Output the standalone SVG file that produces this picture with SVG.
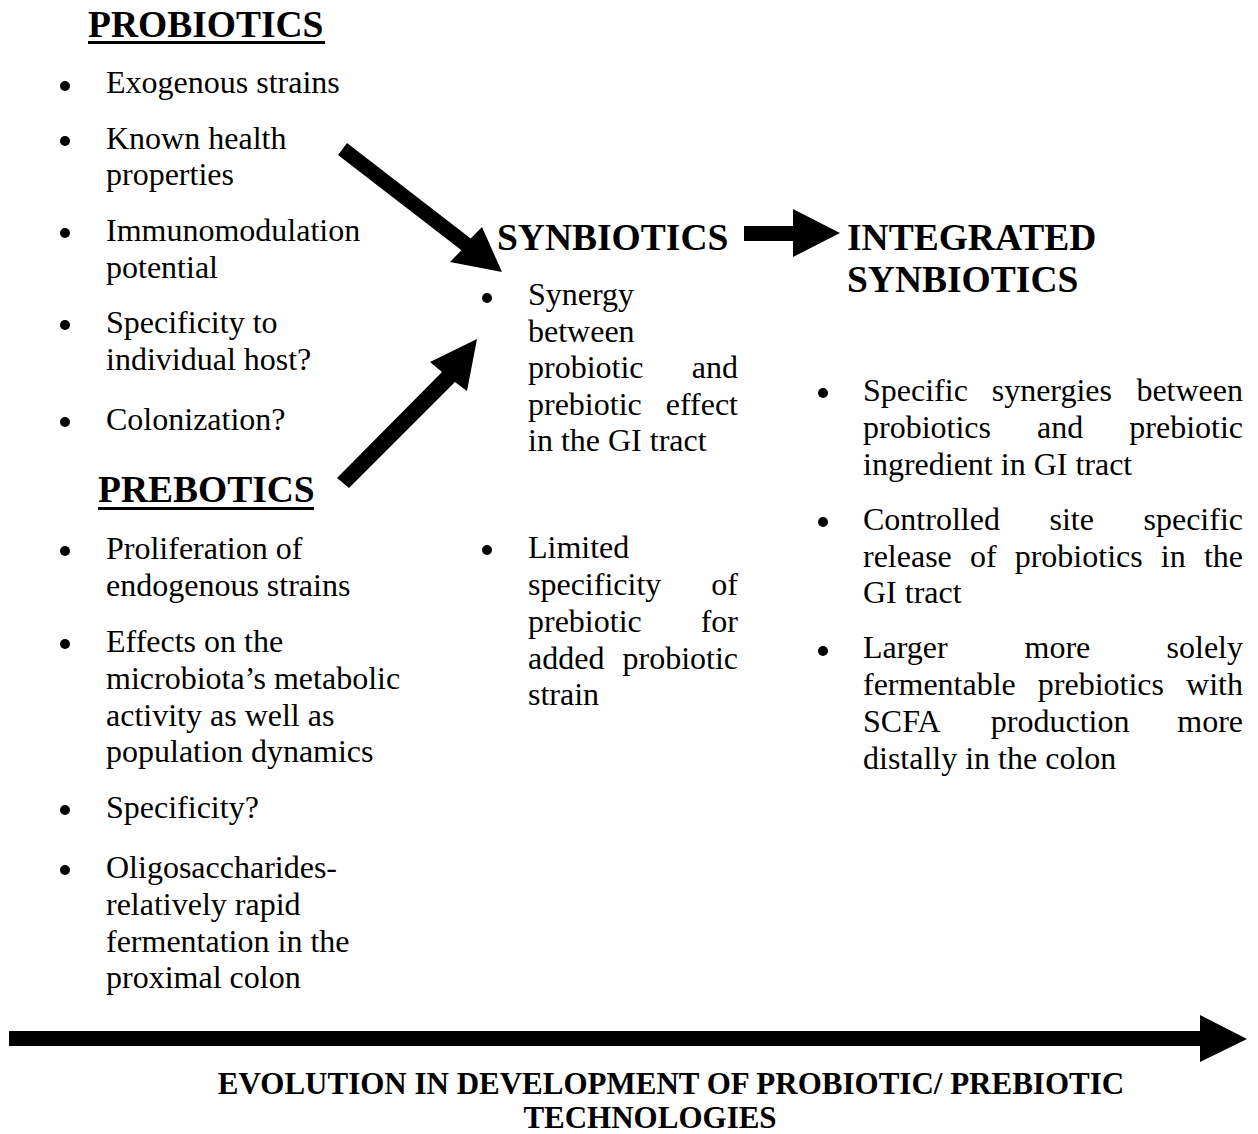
<svg xmlns="http://www.w3.org/2000/svg" width="1258" height="1134" viewBox="0 0 1258 1134">
<style>
text{font-family:"Liberation Serif","Times New Roman",serif;fill:#000}
.b{font-size:32px}
.h{font-size:37.5px;font-weight:bold}
.f{font-size:31px;font-weight:bold}
.e{text-anchor:end}
.m{text-anchor:middle}
circle{fill:#000}
.arr{fill:#000}
</style>
<rect width="1258" height="1134" fill="#fff"/>

<g id="probiotics">
<text class="h" x="88" y="37">PROBIOTICS</text>
<rect x="88" y="41" width="237" height="3"/>
<circle cx="65" cy="86" r="5"/>
<text class="b" x="106" y="93">Exogenous strains</text>
<circle cx="65" cy="141" r="5"/>
<text class="b" x="106" y="149">Known health</text>
<text class="b" x="106" y="185">properties</text>
<circle cx="65" cy="233" r="5"/>
<text class="b" x="106" y="241">Immunomodulation</text>
<text class="b" x="106" y="278">potential</text>
<circle cx="65" cy="325" r="5"/>
<text class="b" x="106" y="333">Specificity to</text>
<text class="b" x="106" y="370">individual host?</text>
<circle cx="65" cy="422" r="5"/>
<text class="b" x="106" y="430">Colonization?</text>
</g>

<g id="prebiotics">
<text class="h" x="98" y="502">PREBOTICS</text>
<rect x="98" y="507" width="216" height="3"/>
<circle cx="65" cy="551" r="5"/>
<text class="b" x="106" y="559">Proliferation of</text>
<text class="b" x="106" y="596">endogenous strains</text>
<circle cx="65" cy="644" r="5"/>
<text class="b" x="106" y="652">Effects on the</text>
<text class="b" x="106" y="689">microbiota’s metabolic</text>
<text class="b" x="106" y="726">activity as well as</text>
<text class="b" x="106" y="762">population dynamics</text>
<circle cx="65" cy="810" r="5"/>
<text class="b" x="106" y="818">Specificity?</text>
<circle cx="65" cy="870" r="5"/>
<text class="b" x="106" y="878">Oligosaccharides-</text>
<text class="b" x="106" y="915">relatively rapid</text>
<text class="b" x="106" y="952">fermentation in the</text>
<text class="b" x="106" y="988">proximal colon</text>
</g>

<g id="synbiotics">
<text class="h" x="497" y="250">SYNBIOTICS</text>
<circle cx="487" cy="298" r="5"/>
<text class="b" x="528" y="305">Synergy</text>
<text class="b" x="528" y="342">between</text>
<text class="b" x="528" y="378">probiotic</text><text class="b e" x="738" y="378">and</text>
<text class="b" x="528" y="415">prebiotic</text><text class="b e" x="738" y="415">effect</text>
<text class="b" x="528" y="451">in the GI tract</text>
<circle cx="487" cy="550" r="5"/>
<text class="b" x="528" y="558">Limited</text>
<text class="b" x="528" y="595">specificity</text><text class="b e" x="738" y="595">of</text>
<text class="b" x="528" y="632">prebiotic</text><text class="b e" x="738" y="632">for</text>
<text class="b" x="528" y="669">added</text><text class="b e" x="738" y="669">probiotic</text>
<text class="b" x="528" y="705">strain</text>
</g>

<g id="integrated-synbiotics">
<text class="h" x="847" y="250">INTEGRATED</text>
<text class="h" x="847" y="292">SYNBIOTICS</text>
<circle cx="823" cy="393" r="5"/>
<text class="b" x="863" y="401">Specific</text><text class="b" x="991.7" y="401">synergies</text><text class="b e" x="1243" y="401">between</text>
<text class="b" x="863" y="438">probiotics</text><text class="b" x="1037" y="438">and</text><text class="b e" x="1243" y="438">prebiotic</text>
<text class="b" x="863" y="475">ingredient in GI tract</text>
<circle cx="823" cy="522" r="5"/>
<text class="b" x="863" y="530">Controlled</text><text class="b" x="1049.5" y="530">site</text><text class="b e" x="1243" y="530">specific</text>
<text class="b" x="863" y="567">release</text><text class="b" x="969.9" y="567">of</text><text class="b" x="1014.7" y="567">probiotics</text><text class="b" x="1160.8" y="567">in</text><text class="b e" x="1243" y="567">the</text>
<text class="b" x="863" y="603">GI tract</text>
<circle cx="823" cy="651" r="5"/>
<text class="b" x="863" y="658">Larger</text><text class="b" x="1024.5" y="658">more</text><text class="b e" x="1243" y="658">solely</text>
<text class="b" x="863" y="695">fermentable</text><text class="b" x="1037.8" y="695">prebiotics</text><text class="b e" x="1243" y="695">with</text>
<text class="b" x="863" y="732">SCFA</text><text class="b" x="990.8" y="732">production</text><text class="b e" x="1243" y="732">more</text>
<text class="b" x="863" y="769">distally in the colon</text>
</g>

<g id="evolution">
<text class="f m" x="671" y="1094">EVOLUTION IN DEVELOPMENT OF PROBIOTIC/ PREBIOTIC</text>
<text class="f m" x="650" y="1128">TECHNOLOGIES</text>
</g>

<g id="connectors">
<polygon class="arr" points="347,143 470.7,238.4 482,227 502,272 450,262 461.5,250.2 338,155"/>
<polygon class="arr" points="337,478 442,372 430,362 477,339 467,391 455,382 349,488"/>
<polygon class="arr" points="744,226 793,226 793,209 840,233 793,257 793,241 744,241"/>
<polygon class="arr" points="9,1031 1200,1031 1200,1015 1247,1039 1200,1062 1200,1046 9,1046"/>
</g>
</svg>
